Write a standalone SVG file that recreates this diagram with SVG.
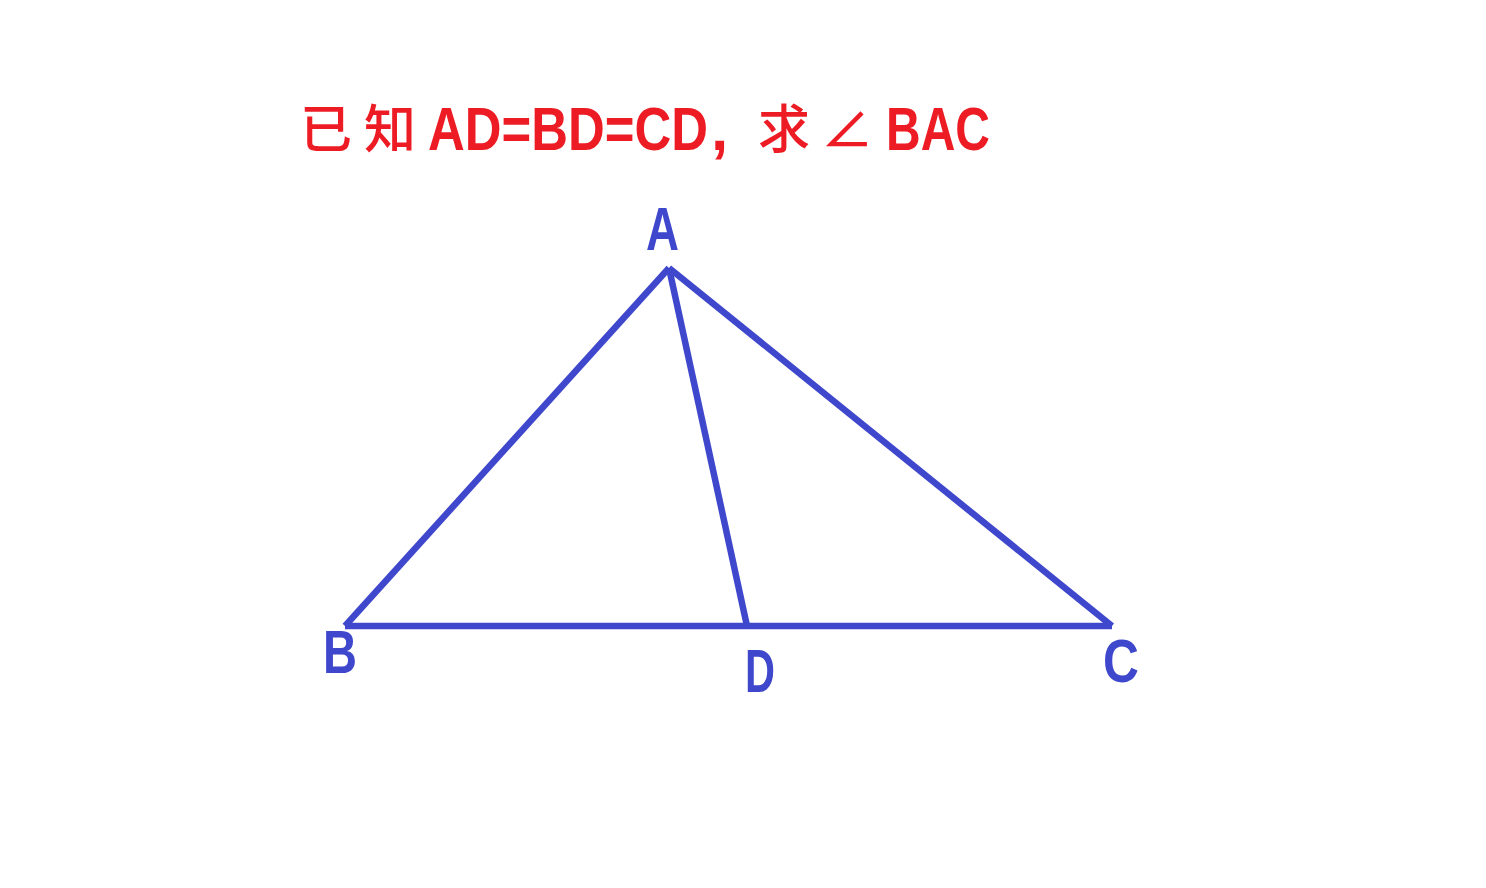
<svg xmlns="http://www.w3.org/2000/svg" width="1486" height="888" viewBox="0 0 1486 888">
<style>
.t{fill:#ed1c24;font-family:"Liberation Sans",Arial,sans-serif;font-weight:bold;font-size:62px}
.cj{fill:#ed1c24;font-family:"Noto Sans CJK SC","Noto Sans CJK JP",sans-serif;font-size:52px;font-weight:500}
.lbl{fill:#3f48cc;font-family:"Liberation Sans",Arial,sans-serif;font-weight:bold;font-size:62px}
.edge{stroke:#3f48cc;stroke-width:6.5;fill:none;stroke-linecap:butt}
</style>
<rect width="1486" height="888" fill="#ffffff"/>
<g id="title">
<text class="cj" x="300" y="148">已</text>
<text class="cj" x="364" y="148">知</text>
<text class="t" transform="translate(428,150) scale(0.821,1)">AD=BD=CD</text>
<text class="t" x="711" y="150">,</text>
<text class="cj" x="758" y="148">求</text>
<text class="cj" x="821" y="148">∠</text>
<text class="t" transform="translate(886,150) scale(0.774,1)">BAC</text>
</g>
<g id="connectors">
<line class="edge" x1="669" y1="268" x2="345" y2="626"/>
<line class="edge" x1="669" y1="268" x2="1112" y2="626"/>
<line class="edge" x1="669" y1="268" x2="747" y2="626"/>
<line class="edge" x1="345" y1="626" x2="1112" y2="626"/>
</g>
<g id="node-A"><text class="lbl" transform="translate(646,250) scale(0.737,1)">A</text></g>
<g id="node-B"><text class="lbl" transform="translate(323,673) scale(0.76,1)">B</text></g>
<g id="node-D"><text class="lbl" transform="translate(745,692) scale(0.67,1)">D</text></g>
<g id="node-C"><text class="lbl" transform="translate(1103,682) scale(0.8,1)">C</text></g>
</svg>
